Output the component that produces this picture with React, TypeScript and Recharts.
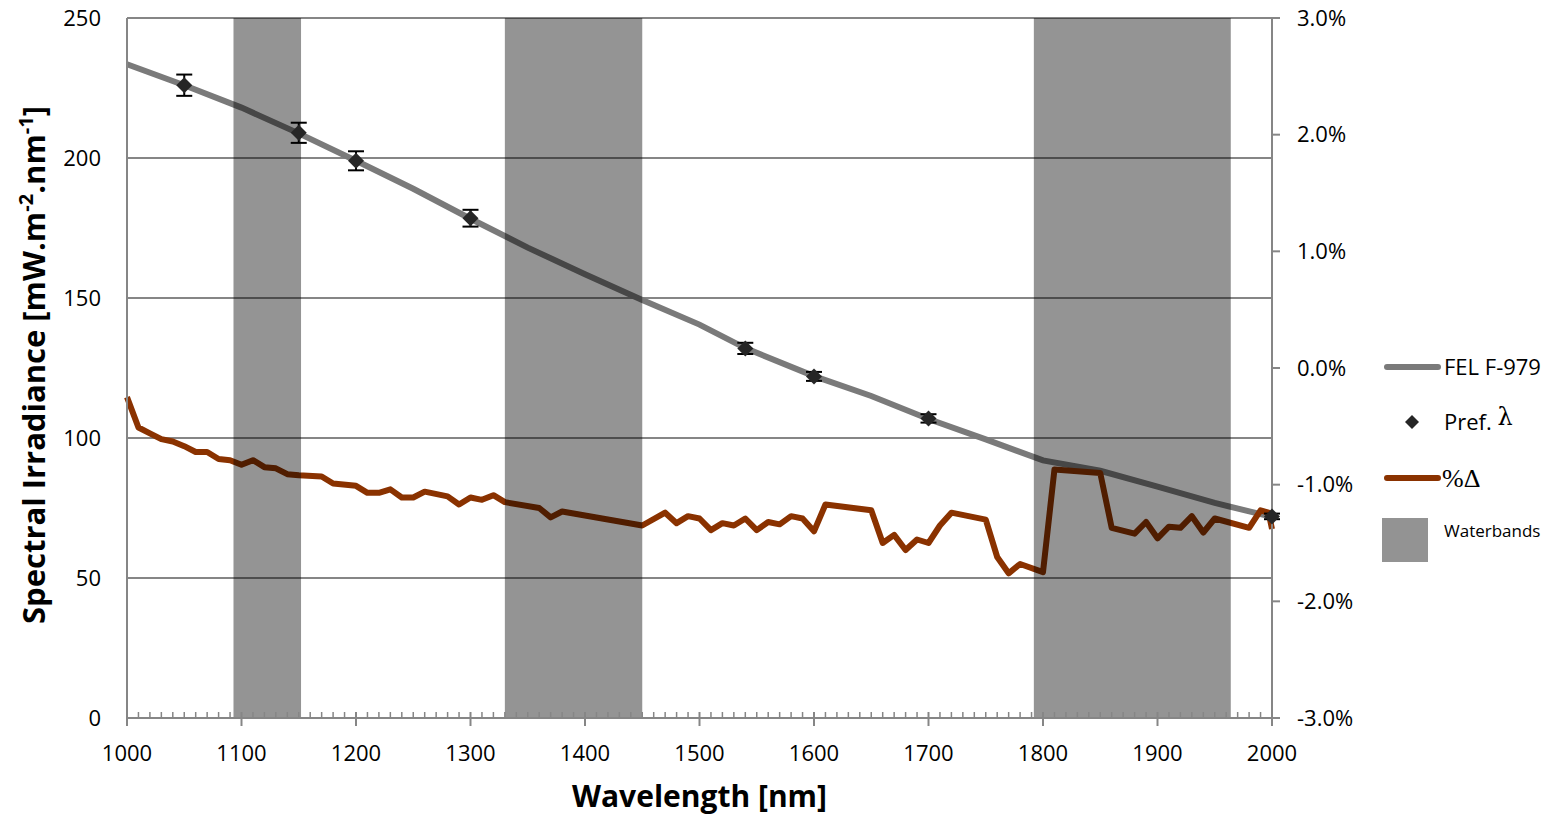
import {
  CartesianGrid,
  ComposedChart,
  ErrorBar,
  Line,
  ReferenceArea,
  Scatter,
  XAxis,
  YAxis,
} from "recharts";

// FEL F-979 lamp irradiance [mW.m-2.nm-1]
const felWl = [1000, 1050, 1100, 1150, 1200, 1250, 1300, 1350, 1400, 1450, 1500, 1540, 1600, 1650, 1700, 1750, 1800, 1850, 1900, 1950, 2000];
const felVal = [233.5, 226, 218, 208.8, 199, 189, 178.3, 168, 158.5, 149.3, 140.5, 132.1, 122.1, 115, 106.8, 99.5, 92, 88.3, 82.6, 76.8, 71.8];

// preferred wavelengths with uncertainty
const prefWl = [1050, 1150, 1200, 1300, 1540, 1600, 1700, 2000];
const prefVal = [226, 209, 199, 178.5, 132, 122, 107, 72];
const prefErr = [3.8, 3.6, 3.4, 3, 2, 1.6, 1.5, 1];

// %delta (right axis)
const deltaWl = [
  1000, 1010, 1020, 1030, 1040, 1050, 1060, 1070, 1080, 1090, 1100, 1110, 1120, 1130, 1140, 1150, 1170,
  1180, 1200, 1210, 1220, 1230, 1240, 1250, 1260, 1280, 1290, 1300, 1310, 1320, 1330, 1360, 1370, 1380,
  1450, 1470, 1480, 1490, 1500, 1510, 1520, 1530, 1540, 1550, 1560, 1570, 1580, 1590, 1600, 1610, 1650,
  1660, 1670, 1680, 1690, 1700, 1710, 1720, 1750, 1760, 1770, 1780, 1800, 1810, 1850, 1860, 1880, 1890,
  1900, 1910, 1920, 1930, 1940, 1950, 1980, 1990, 1997, 2000,
];
const deltaPct = [
  -0.25, -0.51, -0.56, -0.61, -0.63, -0.67, -0.72, -0.72, -0.78, -0.79, -0.83, -0.79, -0.85, -0.86, -0.91, -0.92, -0.93,
  -0.99, -1.01, -1.07, -1.07, -1.04, -1.11, -1.11, -1.06, -1.1, -1.17, -1.11, -1.13, -1.09, -1.15, -1.2, -1.28, -1.23,
  -1.35, -1.24, -1.33, -1.27, -1.29, -1.39, -1.33, -1.35, -1.29, -1.39, -1.32, -1.34, -1.27, -1.29, -1.4, -1.17, -1.22,
  -1.5, -1.43, -1.56, -1.47, -1.5, -1.35, -1.24, -1.3, -1.62, -1.76, -1.68, -1.75, -0.87, -0.9, -1.37, -1.42, -1.32,
  -1.46, -1.36, -1.37, -1.27, -1.41, -1.29, -1.37, -1.22, -1.24, -1.38,
];

const waterbands = [
  [1093, 1152],
  [1330, 1450],
  [1792, 1964],
];

const xTicks = Array.from({ length: 101 }, (_, i) => 1000 + i * 10);
const leftTicks = [0, 50, 100, 150, 200, 250];
const rightTicks = [-3, -2, -1, 0, 1, 2, 3];

const felData = felWl.map((x, i) => ({ x, fel: felVal[i] }));
const prefData = prefWl.map((x, i) => ({ x, pref: prefVal[i], err: prefErr[i] }));
const deltaData = deltaWl.map((x, i) => ({ x, delta: deltaPct[i] }));

const FONT = "'Open Sans', sans-serif";
const AXIS = "#868686";

const XTick = ({ x, y, payload }: any) => {
  const major = payload.value % 100 === 0;
  return (
    <g>
      <line x1={x} x2={x} y1={y - 6} y2={major ? y + 8 : y} stroke={AXIS} strokeWidth={major ? 2 : 1.5} />
      {major && (
        <text x={x} y={y + 43} textAnchor="middle" fontSize={22} fontFamily={FONT} fill="#000">
          {payload.value}
        </text>
      )}
    </g>
  );
};

const Diamond = ({ cx, cy }: any) => (
  <polygon points={`${cx},${cy - 8} ${cx + 8},${cy} ${cx},${cy + 8} ${cx - 8},${cy}`} fill="#262626" />
);

function Legend() {
  return (
    <svg width={200} height={240} style={{ position: "absolute", left: 1370, top: 340 }}>
      <line x1={17} x2={68} y1={27} y2={27} stroke="#7a7a7a" strokeWidth={6} strokeLinecap="round" />
      <text x={74} y={35} fontSize={22} fontFamily={FONT} fill="#000">FEL F-979</text>
      <polygon points="42,75 49,82 42,89 35,82" fill="#262626" />
      <text x={74} y={90} fontSize={22} fontFamily={FONT} fill="#000">
        Pref.{" "}
        <tspan fontFamily="'DejaVu Serif', serif" fontSize={24} dy={-5}>λ</tspan>
      </text>
      <line x1={17} x2={68} y1={138} y2={138} stroke="#8a3200" strokeWidth={6} strokeLinecap="round" />
      <text x={72} y={147} fontSize={26} fontFamily="'Liberation Serif', serif" fill="#000">%Δ</text>
      <rect x={12} y={178} width={46} height={44} fill="#939393" />
      <text x={74} y={197} fontSize={17} fontFamily={FONT} fill="#000">Waterbands</text>
    </svg>
  );
}

export default function App() {
  return (
    <div style={{ position: "absolute", left: 0, top: 0, width: 1558, height: 818, background: "#fff" }}>
      <ComposedChart width={1558} height={818} margin={{ top: 18, right: 206, bottom: 0, left: 0 }}>
        <CartesianGrid yAxisId="left" vertical={false} stroke={AXIS} strokeWidth={2} />
        <XAxis
          type="number"
          dataKey="x"
          domain={[1000, 2000]}
          ticks={xTicks}
          interval={0}
          height={100}
          tickSize={0}
          tickMargin={0}
          tickLine={false}
          axisLine={{ stroke: AXIS, strokeWidth: 2 }}
          tick={<XTick />}
          allowDuplicatedCategory={false}
          label={{
            content: ({ viewBox }: any) => (
              <text
                x={viewBox.x + viewBox.width / 2}
                y={viewBox.y + 89}
                textAnchor="middle"
                fontSize={30}
                fontWeight="bold"
                fontFamily={FONT}
                fill="#000"
              >
                Wavelength [nm]
              </text>
            ),
          }}
        />
        <YAxis
          yAxisId="left"
          domain={[0, 250]}
          ticks={leftTicks}
          width={127}
          tickSize={0}
          tickMargin={26}
          tickLine={false}
          axisLine={{ stroke: AXIS, strokeWidth: 2 }}
          tick={{ fontSize: 22, fontFamily: FONT, fill: "#000" }}
          label={{
            content: ({ viewBox }: any) => {
              const cy = viewBox.y + viewBox.height / 2 - 3;
              return (
                <text
                  x={45}
                  y={cy}
                  transform={`rotate(-90, 45, ${cy})`}
                  textAnchor="middle"
                  fontSize={31}
                  fontWeight="bold"
                  fontFamily={FONT}
                  fill="#000"
                >
                  Spectral Irradiance [mW.m
                  <tspan fontSize={20} dy={-12}>-2</tspan>
                  <tspan dy={12}>.nm</tspan>
                  <tspan fontSize={20} dy={-12}>-1</tspan>
                  <tspan dy={12}>]</tspan>
                </text>
              );
            },
          }}
        />
        <YAxis
          yAxisId="right"
          orientation="right"
          domain={[-3, 3]}
          ticks={rightTicks}
          width={80}
          tickSize={8}
          tickMargin={17}
          tickLine={{ stroke: AXIS, strokeWidth: 2 }}
          axisLine={{ stroke: AXIS, strokeWidth: 2 }}
          tickFormatter={(v: number) => `${v.toFixed(1)}%`}
          tick={{ fontSize: 22, fontFamily: FONT, fill: "#000", textAnchor: "start" }}
        />
        <Line
          yAxisId="left"
          data={felData}
          dataKey="fel"
          type="linear"
          stroke="#7a7a7a"
          strokeWidth={6}
          dot={false}
          isAnimationActive={false}
        />
        <Line
          yAxisId="right"
          data={deltaData}
          dataKey="delta"
          type="linear"
          stroke="#8a3200"
          strokeWidth={6}
          strokeLinejoin="round"
          dot={false}
          isAnimationActive={false}
        />
        {waterbands.map(([a, b]) => (
          <ReferenceArea
            key={a}
            yAxisId="left"
            x1={a}
            x2={b}
            y1={0}
            y2={250}
            fill="#000"
            fillOpacity={0.42}
            stroke="none"
            zIndex={450}
          />
        ))}
        <Scatter
          yAxisId="left"
          data={prefData}
          dataKey="pref"
          shape={<Diamond />}
          isAnimationActive={false}
        >
          <ErrorBar dataKey="err" direction="y" width={8} stroke="#000" strokeWidth={2} />
        </Scatter>
      </ComposedChart>
      <Legend />
    </div>
  );
}
